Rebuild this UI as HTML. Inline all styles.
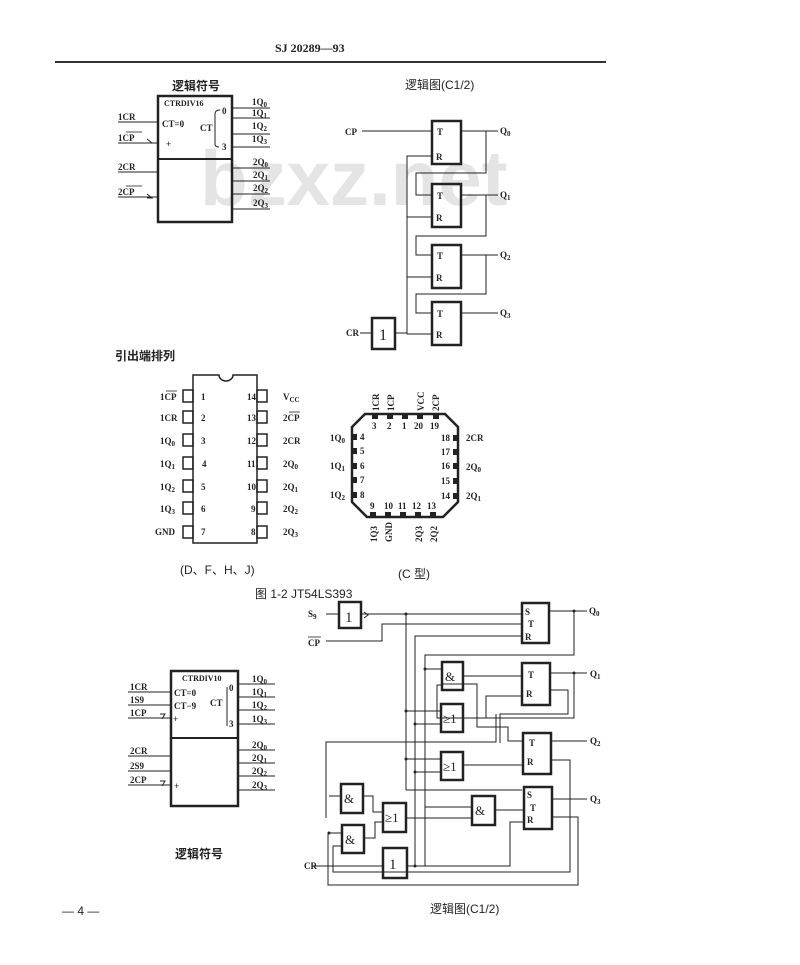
<!DOCTYPE html>
<html><head><meta charset="utf-8"><style>
html,body{margin:0;padding:0;background:#fff;}
svg{display:block}
text{font-family:"Liberation Serif","Noto Serif CJK SC",serif;fill:#222;}
.s{font-size:9px;font-weight:bold}
.c{font-family:"Liberation Sans","Noto Sans CJK SC",sans-serif;font-size:12px}
</style></head><body>
<svg width="800" height="965" viewBox="0 0 800 965" xmlns="http://www.w3.org/2000/svg">
<rect width="800" height="965" fill="#fff"/>
<text x="200" y="205" style="font-family:'Liberation Sans',sans-serif;font-size:78px;font-weight:bold;fill:#e4e4e4">bzxz.net</text>
<text x="275" y="52" style="font-size:12px;font-weight:bold">SJ 20289—93</text>
<line x1="55" y1="62" x2="606" y2="62" stroke="#333" stroke-width="2"/>

<g stroke="#222" fill="none">
<rect x="158" y="96" width="74" height="126" stroke-width="2.5"/>
<line x1="158" y1="159" x2="232" y2="159" stroke-width="2"/>
<line x1="118" y1="122" x2="158" y2="122"/>
<line x1="118" y1="143" x2="158" y2="143"/>
<line x1="118" y1="172" x2="158" y2="172"/>
<line x1="118" y1="197" x2="158" y2="197"/>
<line x1="232" y1="108" x2="270" y2="108"/><line x1="232" y1="118" x2="270" y2="118"/>
<line x1="232" y1="134" x2="270" y2="134"/><line x1="232" y1="147" x2="270" y2="147"/>
<line x1="232" y1="168" x2="270" y2="168"/><line x1="232" y1="181" x2="270" y2="181"/>
<line x1="232" y1="194" x2="270" y2="194"/><line x1="232" y1="209" x2="270" y2="209"/>
<path d="M220 110 Q215 110 215 114 V144 Q215 147 219 147"/>
<path d="M147 139 l5 4 l-5 0"/><path d="M147 194 l5 4 l-5 0"/>
</g>
<text x="172" y="90" class="c" style="font-weight:bold">逻辑符号</text>
<text x="164" y="106" class="s" style="font-size:8px">CTRDIV16</text>
<text x="162" y="127" class="s">CT=0</text>
<text x="166" y="147" class="s">+</text>
<text x="200" y="131" class="s">CT</text>
<text x="222" y="114" class="s">0</text><text x="222" y="150" class="s">3</text>
<text x="118" y="120" class="s">1CR</text><text x="118" y="141" class="s">1CP</text><line x1="126" y1="132" x2="142" y2="132" stroke="#222" stroke-width=".8"/>
<text x="118" y="170" class="s">2CR</text><text x="118" y="195" class="s">2CP</text><line x1="126" y1="186" x2="142" y2="186" stroke="#222" stroke-width=".8"/>
<text x="252" y="105" class="s">1Q<tspan font-size="7" dy="2">0</tspan></text>
<text x="252" y="116" class="s">1Q<tspan font-size="7" dy="2">1</tspan></text>
<text x="252" y="129" class="s">1Q<tspan font-size="7" dy="2">2</tspan></text>
<text x="252" y="142" class="s">1Q<tspan font-size="7" dy="2">3</tspan></text>
<text x="253" y="165" class="s">2Q<tspan font-size="7" dy="2">0</tspan></text>
<text x="253" y="178" class="s">2Q<tspan font-size="7" dy="2">1</tspan></text>
<text x="253" y="191" class="s">2Q<tspan font-size="7" dy="2">2</tspan></text>
<text x="253" y="206" class="s">2Q<tspan font-size="7" dy="2">3</tspan></text>

<text x="405" y="89" class="c">逻辑图(C1/2)</text>
<g stroke="#222" fill="none">
<rect x="432" y="121" width="29" height="43" stroke-width="2.5"/>
<rect x="432" y="184" width="29" height="43" stroke-width="2.5"/>
<rect x="432" y="245" width="29" height="43" stroke-width="2.5"/>
<rect x="432" y="302" width="29" height="43" stroke-width="2.5"/>
<rect x="372" y="318" width="23" height="31" stroke-width="2.5"/>
<line x1="362" y1="131" x2="432" y2="131"/>
<line x1="461" y1="131" x2="498" y2="131"/><line x1="461" y1="195" x2="498" y2="195"/>
<line x1="461" y1="255" x2="498" y2="255"/><line x1="461" y1="313" x2="498" y2="313"/>
<path d="M486 131 V173 H416 V195 H432"/>
<path d="M486 195 V236 H416 V255 H432"/>
<path d="M486 255 V294 H416 V313 H432"/>
<path d="M432 156 H407 V334 H432"/>
<line x1="407" y1="217" x2="432" y2="217"/><line x1="407" y1="277" x2="432" y2="277"/>
<line x1="360" y1="333" x2="372" y2="333"/><line x1="395" y1="333" x2="407" y2="333"/>
</g>
<text x="437" y="135" class="s">T</text><text x="436" y="160" class="s">R</text>
<text x="437" y="199" class="s">T</text><text x="436" y="221" class="s">R</text>
<text x="437" y="259" class="s">T</text><text x="436" y="281" class="s">R</text>
<text x="437" y="317" class="s">T</text><text x="436" y="338" class="s">R</text>
<text x="379" y="340" style="font-size:16px">1</text>
<text x="345" y="135" class="s">CP</text><text x="346" y="336" class="s">CR</text>
<text x="500" y="134" class="s">Q<tspan font-size="7" dy="2">0</tspan></text>
<text x="500" y="198" class="s">Q<tspan font-size="7" dy="2">1</tspan></text>
<text x="500" y="258" class="s">Q<tspan font-size="7" dy="2">2</tspan></text>
<text x="500" y="316" class="s">Q<tspan font-size="7" dy="2">3</tspan></text>

<text x="115" y="360" class="c" style="font-weight:bold">引出端排列</text>
<g stroke="#222" fill="none" stroke-width="1.5">
<path d="M193 375 H219 A7 6 0 0 0 233 375 H257 V543 H193 Z"/>
<rect x="183" y="390" width="10" height="12"/><rect x="183" y="411" width="10" height="12"/>
<rect x="183" y="434" width="10" height="12"/><rect x="183" y="457" width="10" height="12"/>
<rect x="183" y="480" width="10" height="12"/><rect x="183" y="502" width="10" height="12"/>
<rect x="183" y="526" width="10" height="12"/>
<rect x="257" y="390" width="10" height="12"/><rect x="257" y="411" width="10" height="12"/>
<rect x="257" y="434" width="10" height="12"/><rect x="257" y="457" width="10" height="12"/>
<rect x="257" y="480" width="10" height="12"/><rect x="257" y="502" width="10" height="12"/>
<rect x="257" y="526" width="10" height="12"/>
</g>
<text x="160" y="400" class="s">1CP</text><text x="160" y="421" class="s">1CR</text>
<text x="160" y="444" class="s">1Q<tspan font-size="7" dy="2">0</tspan></text>
<text x="160" y="467" class="s">1Q<tspan font-size="7" dy="2">1</tspan></text>
<text x="160" y="490" class="s">1Q<tspan font-size="7" dy="2">2</tspan></text>
<text x="160" y="512" class="s">1Q<tspan font-size="7" dy="2">3</tspan></text>
<text x="155" y="535" class="s">GND</text>
<text x="201" y="400" class="s">1</text><text x="201" y="421" class="s">2</text><text x="201" y="444" class="s">3</text>
<text x="202" y="467" class="s">4</text><text x="201" y="490" class="s">5</text><text x="201" y="512" class="s">6</text><text x="201" y="535" class="s">7</text>
<text x="247" y="400" class="s">14</text><text x="247" y="421" class="s">13</text><text x="247" y="444" class="s">12</text>
<text x="247" y="467" class="s">11</text><text x="247" y="490" class="s">10</text><text x="251" y="512" class="s">9</text><text x="251" y="535" class="s">8</text>
<text x="283" y="400" class="s">V<tspan font-size="7" dy="2">CC</tspan></text>
<text x="283" y="421" class="s">2CP</text><text x="283" y="444" class="s">2CR</text>
<text x="283" y="467" class="s">2Q<tspan font-size="7" dy="2">0</tspan></text>
<text x="283" y="490" class="s">2Q<tspan font-size="7" dy="2">1</tspan></text>
<text x="283" y="512" class="s">2Q<tspan font-size="7" dy="2">2</tspan></text>
<text x="283" y="535" class="s">2Q<tspan font-size="7" dy="2">3</tspan></text>
<line x1="166" y1="391" x2="177" y2="391" stroke="#222" stroke-width=".8"/>
<line x1="289" y1="412" x2="300" y2="412" stroke="#222" stroke-width=".8"/>
<text x="180" y="574" class="c">(D、F、H、J)</text>
<text x="255" y="598" class="c">图 1-2  JT54LS393</text>

<polygon points="365,414 445,414 458,427 458,502 443,517 367,517 352,502 352,427" fill="none" stroke="#222" stroke-width="2.5"/>
<g fill="#222">
<rect x="372" y="414" width="6" height="5"/><rect x="387" y="414" width="6" height="5"/><rect x="402" y="414" width="6" height="5"/><rect x="417" y="414" width="6" height="5"/><rect x="433" y="414" width="6" height="5"/>
<rect x="352" y="434" width="5" height="6"/><rect x="352" y="448" width="5" height="6"/><rect x="352" y="463" width="5" height="6"/><rect x="352" y="477" width="5" height="6"/><rect x="352" y="492" width="5" height="6"/>
<rect x="453" y="435" width="5" height="6"/><rect x="453" y="449" width="5" height="6"/><rect x="453" y="463" width="5" height="6"/><rect x="453" y="478" width="5" height="6"/><rect x="453" y="493" width="5" height="6"/>
<rect x="370" y="512" width="6" height="5"/><rect x="385" y="512" width="6" height="5"/><rect x="400" y="512" width="6" height="5"/><rect x="415" y="512" width="6" height="5"/><rect x="430" y="512" width="6" height="5"/>
</g>
<text x="372" y="429" class="s">3</text><text x="387" y="429" class="s">2</text><text x="402" y="429" class="s">1</text><text x="414" y="429" class="s">20</text><text x="430" y="429" class="s">19</text>
<text x="360" y="440" class="s">4</text><text x="360" y="454" class="s">5</text><text x="360" y="469" class="s">6</text><text x="360" y="483" class="s">7</text><text x="360" y="498" class="s">8</text>
<text x="441" y="441" class="s">18</text><text x="441" y="455" class="s">17</text><text x="441" y="469" class="s">16</text><text x="441" y="484" class="s">15</text><text x="441" y="499" class="s">14</text>
<text x="370" y="509" class="s">9</text><text x="384" y="509" class="s">10</text><text x="398" y="509" class="s">11</text><text x="412" y="509" class="s">12</text><text x="427" y="509" class="s">13</text>
<text x="330" y="441" class="s">1Q<tspan font-size="7" dy="2">0</tspan></text>
<text x="330" y="469" class="s">1Q<tspan font-size="7" dy="2">1</tspan></text>
<text x="330" y="498" class="s">1Q<tspan font-size="7" dy="2">2</tspan></text>
<text x="466" y="441" class="s">2CR</text>
<text x="466" y="470" class="s">2Q<tspan font-size="7" dy="2">0</tspan></text>
<text x="466" y="499" class="s">2Q<tspan font-size="7" dy="2">1</tspan></text>
<text transform="translate(379,411) rotate(-90)" class="s" font-size="8">1CR</text>
<text transform="translate(394,411) rotate(-90)" class="s" font-size="8">1CP</text>
<text transform="translate(424,411) rotate(-90)" class="s" font-size="8">VCC</text>
<text transform="translate(439,411) rotate(-90)" class="s" font-size="8">2CP</text>
<text transform="translate(377,542) rotate(-90)" class="s" font-size="8">1Q3</text>
<text transform="translate(392,542) rotate(-90)" class="s" font-size="8">GND</text>
<text transform="translate(422,542) rotate(-90)" class="s" font-size="8">2Q3</text>
<text transform="translate(437,542) rotate(-90)" class="s" font-size="8">2Q2</text>
<text x="398" y="578" class="c">(C 型)</text>

<g stroke="#222" fill="none">
<rect x="171" y="671" width="67" height="135" stroke-width="2.5"/>
<line x1="171" y1="738" x2="238" y2="738" stroke-width="2"/>
<line x1="128" y1="692" x2="171" y2="692"/><line x1="128" y1="705" x2="171" y2="705"/><line x1="128" y1="718" x2="171" y2="718"/>
<line x1="128" y1="756" x2="171" y2="756"/><line x1="128" y1="771" x2="171" y2="771"/><line x1="128" y1="785" x2="171" y2="785"/>
<line x1="238" y1="684" x2="275" y2="684"/><line x1="238" y1="697" x2="275" y2="697"/><line x1="238" y1="710" x2="275" y2="710"/><line x1="238" y1="724" x2="275" y2="724"/>
<line x1="238" y1="750" x2="275" y2="750"/><line x1="238" y1="763" x2="275" y2="763"/><line x1="238" y1="776" x2="275" y2="776"/><line x1="238" y1="790" x2="275" y2="790"/>
<path d="M227 687 V726"/>
<path d="M160 714 h5 l-3 5"/><path d="M160 781 h5 l-3 5"/>
</g>
<text x="182" y="681" class="s" style="font-size:8px">CTRDIV10</text>
<text x="174" y="696" class="s">CT=0</text><text x="174" y="709" class="s">CT−9</text><text x="173" y="722" class="s">+</text>
<text x="210" y="706" class="s">CT</text><text x="229" y="691" class="s">0</text><text x="229" y="727" class="s">3</text>
<text x="174" y="789" class="s">+</text>
<text x="130" y="690" class="s">1CR</text><text x="130" y="703" class="s">1S9</text><text x="130" y="716" class="s">1CP</text>
<text x="130" y="754" class="s">2CR</text><text x="130" y="769" class="s">2S9</text><text x="130" y="783" class="s">2CP</text>
<text x="252" y="682" class="s">1Q<tspan font-size="7" dy="2">0</tspan></text>
<text x="252" y="695" class="s">1Q<tspan font-size="7" dy="2">1</tspan></text>
<text x="252" y="708" class="s">1Q<tspan font-size="7" dy="2">2</tspan></text>
<text x="252" y="722" class="s">1Q<tspan font-size="7" dy="2">3</tspan></text>
<text x="252" y="748" class="s">2Q<tspan font-size="7" dy="2">0</tspan></text>
<text x="252" y="761" class="s">2Q<tspan font-size="7" dy="2">1</tspan></text>
<text x="252" y="774" class="s">2Q<tspan font-size="7" dy="2">2</tspan></text>
<text x="252" y="788" class="s">2Q<tspan font-size="7" dy="2">3</tspan></text>
<text x="175" y="858" class="c" style="font-weight:bold">逻辑符号</text>

<g stroke="#222" fill="none" stroke-width="2.5">
<rect x="339" y="602" width="22" height="26"/>
<rect x="522" y="603" width="27" height="40"/>
<rect x="442" y="662" width="21" height="28"/>
<rect x="522" y="663" width="28" height="42"/>
<rect x="441" y="704" width="22" height="28"/>
<rect x="523" y="733" width="28" height="41"/>
<rect x="441" y="752" width="22" height="28"/>
<rect x="524" y="787" width="28" height="42"/>
<rect x="472" y="796" width="23" height="29"/>
<rect x="341" y="784" width="22" height="29"/>
<rect x="342" y="825" width="22" height="28"/>
<rect x="383" y="803" width="23" height="29"/>
<rect x="383" y="848" width="24" height="30"/>
</g>
<g stroke="#222" fill="none" stroke-width="1">
<line x1="326" y1="614" x2="339" y2="614"/><path d="M361 614 H522"/>
<path d="M326 641 H382 V624 H522"/>
<path d="M522 636 H415 V866 H407"/>
<line x1="549" y1="611" x2="587" y2="611"/><line x1="550" y1="673" x2="587" y2="673"/>
<line x1="551" y1="741" x2="587" y2="741"/><line x1="552" y1="799" x2="587" y2="799"/>
<path d="M574 611 V655 H425 V866"/>
<line x1="406" y1="614" x2="406" y2="790"/>
<path d="M425 669 H442"/><path d="M463 676 H522"/>
<path d="M574 673 V718 H437 V685 H442"/>
<path d="M406 711 H441"/><path d="M415 724 H441"/>
<path d="M463 718 H486 V696 H522"/>
<path d="M442 684 H477 V727 H508 V741 H523"/>
<path d="M406 759 H441"/><path d="M415 772 H441"/>
<path d="M463 765 H523"/>
<path d="M550 690 H568 V714 H500 V743"/>
<path d="M406 790 H522"/>
<path d="M326 818 V742 H496 V714"/>
<path d="M425 807 H472"/><path d="M495 810 H524"/>
<path d="M363 796 H373 V812 H383"/><path d="M364 838 H375 V822 H383"/>
<path d="M406 818 H472"/>
<path d="M313 866 H383"/>
<path d="M407 866 H510 V822 H524"/>
<path d="M551 760 H570 V872 H333 V846 H342"/>
<path d="M552 817 H578 V885 H328 V833 H342"/>
<path d="M329 833 H342"/><path d="M329 796 H341"/>
<path d="M364 618 l4 -3 l-4 -3"/>
</g>
<g fill="#222"><circle cx="406" cy="614" r="1.5"/><circle cx="574" cy="611" r="1.5"/><circle cx="574" cy="673" r="1.5"/><circle cx="425" cy="669" r="1.5"/><circle cx="406" cy="711" r="1.5"/><circle cx="415" cy="724" r="1.5"/><circle cx="406" cy="759" r="1.5"/><circle cx="415" cy="772" r="1.5"/><circle cx="415" cy="866" r="1.5"/><circle cx="329" cy="833" r="1.5"/></g>
<text x="345" y="622" style="font-size:15px">1</text>
<text x="389" y="869" style="font-size:15px">1</text>
<text x="445" y="681" style="font-size:13px">&amp;</text>
<text x="475" y="815" style="font-size:13px">&amp;</text>
<text x="344" y="803" style="font-size:13px">&amp;</text>
<text x="345" y="844" style="font-size:13px">&amp;</text>
<text x="443" y="723" style="font-size:13px">≥1</text>
<text x="443" y="771" style="font-size:13px">≥1</text>
<text x="385" y="822" style="font-size:13px">≥1</text>
<text x="525" y="615" class="s">S</text><text x="528" y="627" class="s">T</text><text x="525" y="640" class="s">R</text>
<text x="528" y="678" class="s">T</text><text x="526" y="697" class="s">R</text>
<text x="529" y="746" class="s">T</text><text x="527" y="765" class="s">R</text>
<text x="527" y="798" class="s">S</text><text x="530" y="811" class="s">T</text><text x="527" y="823" class="s">R</text>
<text x="308" y="617" class="s">S<tspan font-size="7" dy="2">9</tspan></text>
<text x="308" y="646" class="s">CP</text><line x1="308" y1="637" x2="321" y2="637" stroke="#222" stroke-width=".8"/>
<text x="304" y="869" class="s">CR</text>
<text x="589" y="614" class="s">Q<tspan font-size="7" dy="2">0</tspan></text>
<text x="590" y="677" class="s">Q<tspan font-size="7" dy="2">1</tspan></text>
<text x="590" y="744" class="s">Q<tspan font-size="7" dy="2">2</tspan></text>
<text x="590" y="802" class="s">Q<tspan font-size="7" dy="2">3</tspan></text>
<text x="430" y="913" class="c">逻辑图(C1/2)</text>
<text x="62" y="915" class="c">— 4 —</text>
</svg>
</body></html>
